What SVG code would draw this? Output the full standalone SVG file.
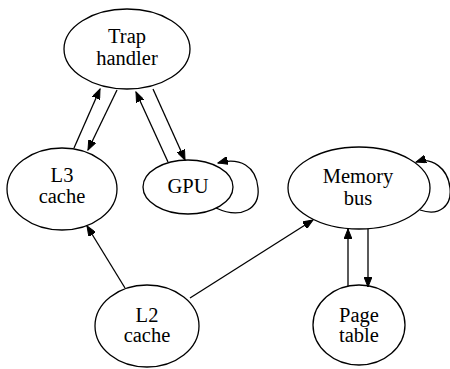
<svg xmlns="http://www.w3.org/2000/svg" width="450" height="369" viewBox="0 0 450 369">
<style>
.n ellipse{fill:none;stroke:#000;stroke-width:1.3}
.n text{font-family:"Liberation Serif","Times New Roman",serif;font-size:20.5px;text-anchor:middle;fill:#000}
.e path{fill:none;stroke:#000;stroke-width:1.3;marker-end:url(#ah)}
</style>
<defs>
<marker id="ah" markerWidth="11" markerHeight="8" refX="10" refY="4" orient="auto" markerUnits="userSpaceOnUse">
<path d="M0,0 L10,4 L0,8 Z" fill="#000" stroke="#000" stroke-width="1"/>
</marker>
</defs>
<rect width="450" height="369" fill="#fff"/>
<g class="e" id="connectors">
<path d="M74,148 L100,89"/>
<path d="M117,90 L88,150"/>
<path d="M168,162 L136,92"/>
<path d="M153,89 L185,160"/>
<path d="M216,208 C242,220 260,208 258,188 C256,166 240,157 218,163"/>
<path d="M125,288 L87,226"/>
<path d="M190,298 L313,220"/>
<path d="M348,286 L348,229"/>
<path d="M368,229 L368,287"/>
<path d="M420,210 C440,217 452,205 450,188 C448,168 432,157 416,162"/>
</g>
<g class="n" id="trap"><ellipse cx="127" cy="49" rx="63" ry="40"/><text x="127" y="43">Trap</text><text x="127" y="65">handler</text></g>
<g class="n" id="l3"><ellipse cx="62" cy="189" rx="55" ry="41"/><text x="62" y="182">L3</text><text x="62" y="203">cache</text></g>
<g class="n" id="gpu"><ellipse cx="188" cy="187" rx="45" ry="27"/><text x="188" y="193">GPU</text></g>
<g class="n" id="membus"><ellipse cx="359" cy="188" rx="71" ry="41"/><text x="358" y="183">Memory</text><text x="358" y="205">bus</text></g>
<g class="n" id="page"><ellipse cx="359" cy="325" rx="46" ry="40"/><text x="359" y="322">Page</text><text x="359" y="342">table</text></g>
<g class="n" id="l2"><ellipse cx="147" cy="326" rx="52" ry="41"/><text x="147" y="322">L2</text><text x="147" y="342">cache</text></g>
</svg>
